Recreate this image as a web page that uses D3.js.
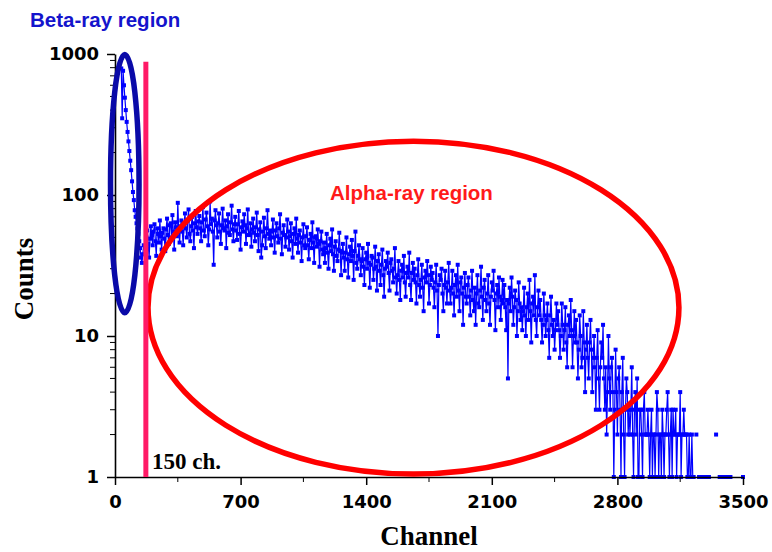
<!DOCTYPE html>
<html>
<head>
<meta charset="utf-8">
<script src="https://cdn.jsdelivr.net/npm/d3@7"></script>
<style>
  html, body { margin: 0; padding: 0; background: #fff; }
  svg { display: block; }
</style>
</head>
<body>
<div id="chart"></div>
<script>
// beta-ray part of the spectrum, channel 35..160 every 5 ch
const betaStart = 35;
const betaStep = 5;
const betaCounts = [790, 350, 760, 600, 490, 400, 330, 280, 240, 205,
  175, 150, 125, 105, 92, 78, 70, 63, 58, 53, 47, 42, 36, 33, 38, 44];

// alpha-ray part, channels 170, 180, ... 3500 (0 = empty channel)
const alphaStart = 170;
const alphaStep = 10;
const alphaCounts = [
  38, 56, 36, 60, 44, 62, 37, 53, 66, 41,
  58, 40, 68, 45, 63, 72, 41, 59, 88, 46,
  66, 44, 74, 50, 79, 47, 70, 42, 77, 53,
  71, 47, 82, 51, 75, 44, 90, 68, 32, 78,
  50, 74, 45, 80, 56, 42, 73, 52, 84, 47,
  70, 48, 77, 41, 65, 73, 45, 79, 52, 43,
  68, 47, 75, 40, 64, 44, 69, 42, 78, 49,
  44, 67, 39, 63, 46, 73, 38, 61, 43, 67,
  41, 63, 36, 58, 68, 39, 56, 34, 62, 42,
  59, 35, 53, 64, 33, 51, 57, 31, 55, 38,
  33, 53, 30, 49, 57, 29, 47, 34, 54, 27,
  45, 29, 50, 26, 43, 48, 25, 55, 30, 44,
  27, 42, 23, 39, 45, 22, 37, 25, 43, 21,
  38, 23, 41, 19, 34, 39, 21, 35, 24, 42,
  20, 34, 18, 32, 37, 19, 31, 39, 18, 33,
  30, 17, 35, 19, 32, 15, 29, 34, 17, 31,
  28, 16, 32, 10, 27, 30, 15, 29, 17, 33,
  17, 29, 14, 27, 32, 15, 26, 12, 28, 17,
  26, 14, 29, 15, 12, 27, 16, 31, 13, 25,
  15, 27, 12, 24, 29, 11, 23, 26, 13, 25,
  23, 11, 5, 22, 26, 12, 21, 10, 24, 13,
  11, 22, 10, 20, 25, 9, 19, 27, 10, 21,
  18, 9, 20, 10, 17, 7, 19, 10, 8, 17,
  15, 7, 17, 8, 16, 6, 14, 18, 6, 15,
  13, 5, 14, 6, 15, 4, 12, 5, 13, 4,
  10, 3, 11, 3, 9, 12, 3, 2, 10, 3,
  7, 1, 8, 2, 6, 1, 7, 1, 5, 2,
  2, 6, 1, 4, 5, 1, 3, 1, 4, 2,
  3, 1, 3, 2, 1, 4, 1, 2, 3, 1,
  2, 4, 1, 3, 3, 2, 1, 2, 4, 2,
  3, 2, 1, 2, 1, 1, 0, 2, 0, 1,
  1, 1, 0, 1, 1, 0, 0, 0, 2, 0,
  1, 1, 1, 0, 1, 1, 1, 0, 0, 0,
  0, 0, 0, 1
];

// alpha-ray part, in-between channels 175, 185, ... 3495
const alphaStartB = 175;
const alphaCountsB = [
  50, 45, 49, 52, 55, 47, 58, 46, 51, 54,
  49, 57, 52, 61, 50, 55, 64, 51, 57, 60,
  55, 62, 58, 66, 53, 60, 56, 63, 59, 65,
  58, 64, 56, 67, 60, 57, 62, 55, 66, 61,
  63, 55, 61, 58, 66, 60, 54, 64, 57, 62,
  56, 62, 53, 59, 55, 61, 58, 52, 63, 57,
  54, 59, 52, 57, 36, 55, 51, 58, 53, 56,
  55, 50, 56, 51, 58, 49, 54, 52, 50, 55,
  51, 47, 53, 45, 49, 52, 46, 50, 44, 51,
  44, 48, 42, 46, 50, 43, 45, 47, 41, 46,
  42, 39, 44, 40, 38, 43, 37, 41, 40, 39,
  36, 39, 35, 38, 34, 37, 40, 33, 37, 35,
  34, 31, 35, 30, 33, 32, 36, 30, 31, 34,
  29, 32, 27, 30, 31, 28, 33, 29, 30, 26,
  27, 25, 29, 26, 24, 28, 26, 23, 28, 25,
  24, 27, 23, 25, 22, 26, 24, 27, 23, 25,
  22, 24, 21, 23, 25, 20, 23, 22, 24, 21,
  22, 20, 23, 19, 21, 24, 20, 22, 19, 23,
  19, 21, 18, 22, 20, 17, 21, 19, 22, 18,
  20, 17, 19, 21, 18, 20, 16, 19, 18, 17,
  16, 18, 17, 15, 19, 16, 18, 15, 17, 16,
  15, 14, 16, 13, 15, 17, 14, 13, 16, 14,
  13, 12, 14, 13, 11, 14, 12, 13, 11, 12,
  11, 10, 12, 11, 9, 12, 10, 11, 10, 9,
  9, 8, 10, 7, 9, 8, 7, 9, 8, 7,
  6, 7, 5, 6, 7, 5, 6, 4, 5, 6,
  4, 3, 4, 5, 3, 4, 2, 3, 4, 3,
  3, 2, 3, 2, 1, 3, 2, 3, 2, 2,
  2, 2, 1, 2, 2, 3, 2, 1, 2, 2,
  3, 2, 2, 1, 2, 3, 2, 2, 1, 2,
  2, 2, 1, 1, 2, 1, 0, 0, 1, 0,
  0, 1, 1, 0, 0, 0, 0, 0, 0, 0,
  1, 0, 1, 1, 0, 0, 0, 0, 0, 0,
  0, 0, 0
];

const xTicks = [0, 700, 1400, 2100, 2800, 3500];
const xMinorTicks = [350, 1050, 1750, 2450, 3150];
const yTicks = [1, 10, 100, 1000];

// annotations, in data units
const cutChannel = 172;          // drawn line for the "150 ch." cut
const cutTop = 880;
const betaEllipse = { x0: -25, x1: 134, y0: 14.6, y1: 990 };
const alphaEllipse = { x0: 184, x1: 3143, y0: 1.05, y1: 241 };

const width = 772, height = 552;
const margin = { top: 54, right: 29, bottom: 75, left: 115 };

const svg = d3.select('#chart')
  .append('svg')
  .attr('width', width)
  .attr('height', height);

const x = d3.scaleLinear()
  .domain([0, 3500])
  .range([margin.left, width - margin.right]);

const y = d3.scaleLog()
  .domain([1, 1000])
  .range([height - margin.bottom, margin.top]);

// build point list
const points = [];
betaCounts.forEach((c, i) => points.push({ ch: betaStart + i * betaStep, count: c }));
alphaCounts.forEach((c, i) => points.push({ ch: alphaStart + i * alphaStep, count: c }));
alphaCountsB.forEach((c, i) => points.push({ ch: alphaStartB + i * alphaStep, count: c }));
points.sort((a, b) => a.ch - b.ch);

const line = d3.line()
  .defined(d => d.count > 0)
  .x(d => x(d.ch))
  .y(d => y(d.count));

svg.append('path')
  .datum(points)
  .attr('d', line)
  .attr('fill', 'none')
  .attr('stroke', '#0000ff')
  .attr('stroke-width', 1.2);

svg.append('g')
  .selectAll('rect')
  .data(points.filter(d => d.count > 0))
  .enter()
  .append('rect')
  .attr('x', d => x(d.ch) - 2)
  .attr('y', d => y(d.count) - 2)
  .attr('width', 4)
  .attr('height', 4)
  .attr('fill', '#0000ff');

// axes
const xAxis = svg.append('g')
  .attr('transform', `translate(0,${height - margin.bottom})`)
  .call(d3.axisBottom(x).tickValues(xTicks).tickFormat(d3.format('d'))
    .tickSize(8).tickSizeOuter(0).tickPadding(10));

xAxis.append('g')
  .selectAll('line')
  .data(xMinorTicks)
  .enter()
  .append('line')
  .attr('x1', d => x(d)).attr('x2', d => x(d))
  .attr('y1', 0).attr('y2', 5)
  .attr('stroke', '#000');

const yMinor = [];
for (const dec of [1, 10, 100]) for (let k = 2; k <= 9; k++) yMinor.push(dec * k);

const yAxis = svg.append('g')
  .attr('transform', `translate(${margin.left},0)`)
  .call(d3.axisLeft(y).tickValues(yTicks).tickFormat(d3.format('d'))
    .tickSize(8).tickSizeOuter(0).tickPadding(8));

yAxis.append('g')
  .selectAll('line')
  .data(yMinor)
  .enter()
  .append('line')
  .attr('x1', 0).attr('x2', -5)
  .attr('y1', d => y(d)).attr('y2', d => y(d))
  .attr('stroke', '#000');

svg.selectAll('.domain').attr('stroke-width', 1.6);
svg.selectAll('.tick line').attr('stroke-width', 1.5);
svg.selectAll('.tick text')
  .attr('font-family', '"DejaVu Sans", sans-serif')
  .attr('font-weight', 'bold')
  .attr('font-size', 18)
  .attr('fill', '#000');

// ellipses
function drawEllipse(e, color) {
  const cx = (x(e.x0) + x(e.x1)) / 2;
  const cy = (y(e.y0) + y(e.y1)) / 2;
  svg.append('ellipse')
    .attr('cx', cx)
    .attr('cy', cy)
    .attr('rx', Math.abs(x(e.x1) - x(e.x0)) / 2)
    .attr('ry', Math.abs(y(e.y0) - y(e.y1)) / 2)
    .attr('fill', 'none')
    .attr('stroke', color)
    .attr('stroke-width', 5.5);
}
drawEllipse(betaEllipse, '#0a0aa8');
drawEllipse(alphaEllipse, '#ff0000');

// cut line
svg.append('line')
  .attr('x1', x(cutChannel)).attr('x2', x(cutChannel))
  .attr('y1', y(cutTop)).attr('y2', y(1))
  .attr('stroke', '#ff1a66')
  .attr('stroke-width', 5);

// labels
svg.append('text')
  .attr('x', 30).attr('y', 27)
  .attr('font-family', '"Liberation Sans", Arial, sans-serif')
  .attr('font-weight', 'bold')
  .attr('font-size', 20.5)
  .attr('fill', '#1414cc')
  .text('Beta-ray region');

svg.append('text')
  .attr('x', 330).attr('y', 200)
  .attr('font-family', '"Liberation Sans", Arial, sans-serif')
  .attr('font-weight', 'bold')
  .attr('font-size', 20.5)
  .attr('fill', '#ff1a1a')
  .text('Alpha-ray region');

svg.append('text')
  .attr('x', 152).attr('y', 469)
  .attr('font-family', '"Liberation Serif", "Times New Roman", serif')
  .attr('font-weight', 'bold')
  .attr('font-size', 23)
  .attr('fill', '#000')
  .text('150 ch.');

svg.append('text')
  .attr('x', 429).attr('y', 545)
  .attr('text-anchor', 'middle')
  .attr('font-family', '"Liberation Serif", "Times New Roman", serif')
  .attr('font-weight', 'bold')
  .attr('font-size', 27)
  .attr('fill', '#000')
  .text('Channel');

svg.append('text')
  .attr('transform', 'translate(33,279) rotate(-90)')
  .attr('text-anchor', 'middle')
  .attr('font-family', '"Liberation Serif", "Times New Roman", serif')
  .attr('font-weight', 'bold')
  .attr('font-size', 27)
  .attr('fill', '#000')
  .text('Counts');
</script>
</body>
</html>
